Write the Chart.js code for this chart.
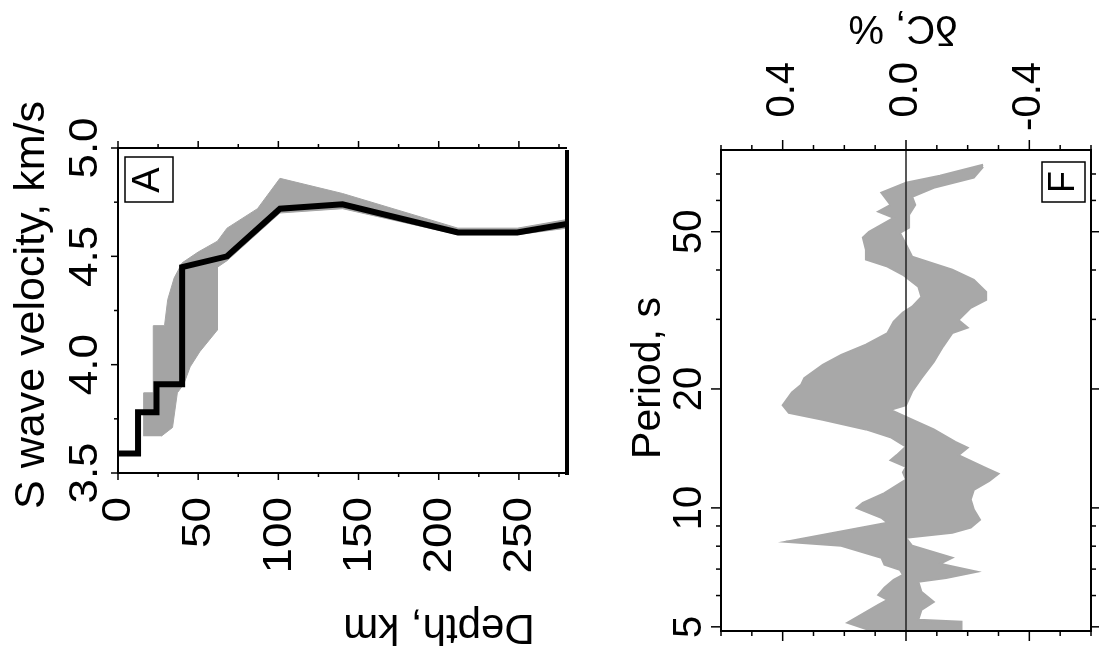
<!DOCTYPE html>
<html>
<head>
<meta charset="utf-8">
<script src="https://cdn.jsdelivr.net/npm/chart.js@4"></script>
<style>
  html, body { margin: 0; padding: 0; background: #fff; }
  #wrap { position: relative; width: 1099px; height: 671px; overflow: hidden; }
  canvas { position: absolute; left: 0; top: 0; }
</style>
</head>
<body>
<div id="wrap">
  <canvas id="chartA" width="1099" height="671"></canvas>
  <canvas id="chartF" width="1099" height="671"></canvas>
</div>
<script>
// ---- panel A: S wave velocity model vs depth ----
const depthKm = [0, 12.5, 12.5, 24, 24, 40, 40, 68, 101, 140, 212, 249, 280];
const vsModel = [3.59, 3.59, 3.78, 3.78, 3.91, 3.91, 4.45, 4.50, 4.72, 4.74, 4.61, 4.61, 4.65];

// outline of the grey range of models
const bandDepthA = [16, 16, 22, 22, 29, 31, 35, 40, 50, 62, 68, 87, 101, 140, 212, 249, 280,
                    280, 249, 212, 140, 101, 68, 62, 62, 51, 45, 41, 37, 34, 27];
const bandVsA = [3.67, 3.87, 3.87, 4.18, 4.18, 4.30, 4.40, 4.47, 4.52, 4.57, 4.63, 4.72, 4.86, 4.79, 4.63, 4.63, 4.67,
                 4.63, 4.60, 4.60, 4.72, 4.70, 4.48, 4.45, 4.16, 4.06, 3.99, 3.91, 3.87, 3.71, 3.67];

const depthTicks = [0, 50, 100, 150, 200, 250];
const vsTicks = [3.5, 4.0, 4.5, 5.0];

// ---- panel F: dC residuals vs period ----
const bandPeriodF = [73.0, 68.5, 64.6, 61.3, 58.5, 55.2, 51.2, 49.7, 46.4, 43.2, 40.1, 37.8, 35.2, 33.6, 32.1,
  29.9, 28.6, 27.7, 25.6, 23.4, 21.3, 19.7, 18.2, 17.7, 17.0, 15.8, 14.7, 14.2, 13.6, 12.6, 12.2, 11.7, 11.1,
  10.5, 9.9, 9.33, 8.91, 8.65, 8.40, 8.02, 7.48, 7.22, 6.89, 6.65, 6.50, 6.13, 5.78, 5.52, 5.21, 5.15, 4.91,
  4.91, 5.12, 5.68, 5.85, 6.02, 6.28, 6.58, 6.77, 6.97, 7.18, 7.48, 8.02, 8.21, 9.17, 9.44, 10.0, 10.3, 10.9,
  11.8, 12.3, 12.7, 13.2, 13.6, 14.3, 14.6, 15.1, 15.8, 16.7, 17.4, 18.2, 19.6, 20.5, 21.3, 23.0, 24.4, 25.9,
  27.7, 29.6, 31.2, 32.3, 34.2, 36.3, 38.9, 40.8, 42.5, 45.0, 48.3, 50.0, 54.2, 56.2, 58.5, 62.8, 66.5, 69.3, 73.9];
const bandDcF = [-0.25, -0.22, -0.09, -0.02, -0.03, -0.01, -0.01, 0.02, 0.00, -0.02, -0.15, -0.22, -0.26, -0.26, -0.21,
  -0.17, -0.20, -0.15, -0.12, -0.09, -0.05, -0.02, 0.00, 0.05, 0.00, -0.09, -0.16, -0.20, -0.17, -0.26, -0.30, -0.27, -0.22,
  -0.21, -0.22, -0.24, -0.21, -0.15, 0.00, -0.02, -0.15, -0.11, -0.23, -0.13, -0.04, -0.05, -0.09, -0.05, -0.04, -0.18, -0.18,
  0.12, 0.19, 0.09, 0.06, 0.09, 0.07, 0.04, 0.01, 0.02, 0.07, 0.08, 0.21, 0.39, 0.06, 0.08, 0.16, 0.14, 0.07,
  0.00, 0.01, 0.00, 0.05, 0.03, 0.00, 0.02, 0.05, 0.13, 0.27, 0.38, 0.40, 0.37, 0.34, 0.33, 0.27, 0.21, 0.13,
  0.06, 0.04, 0.01, -0.02, -0.05, -0.04, 0.01, 0.06, 0.13, 0.13, 0.14, 0.12, 0.04, 0.09, 0.05, 0.08, 0.00, -0.11, -0.25];

const periodTicks = [5, 10, 20, 50];
const periodMinor = [6, 7, 8, 9, 30, 40, 60, 70];
const dcTicks = [0.4, 0.0, -0.4];

const FONT = '"Liberation Sans", Arial, sans-serif';

// draw rotated text; stretch widens the glyphs along the reading direction
function rotText(ctx, text, x, y, angle, align, baseline, size, stretch) {
  ctx.save();
  ctx.translate(x, y);
  ctx.rotate(angle);
  if (stretch) ctx.scale(stretch, 1);
  ctx.font = size + 'px ' + FONT;
  ctx.fillStyle = '#000';
  ctx.textAlign = align;
  ctx.textBaseline = baseline;
  ctx.fillText(text, 0, 0);
  ctx.restore();
}

function seg(ctx, x1, y1, x2, y2, w) {
  ctx.lineWidth = w;
  ctx.beginPath();
  ctx.moveTo(x1, y1);
  ctx.lineTo(x2, y2);
  ctx.stroke();
}

const axesA = {
  id: 'axesA',
  afterDraw(chart) {
    const { ctx, chartArea: a, scales: { x, y } } = chart;
    ctx.save();
    ctx.strokeStyle = '#000';
    seg(ctx, a.left, a.top, a.right, a.top, 2);
    seg(ctx, a.left, a.bottom, a.right, a.bottom, 2);
    seg(ctx, a.left, a.top - 1, a.left, a.bottom + 1, 2);
    seg(ctx, a.right, a.top + 2, a.right, a.bottom + 2, 4);
    for (let d = 0; d <= 275; d += 25) {
      const px = x.getPixelForValue(d);
      const len = d % 50 === 0 ? 7 : 4;
      seg(ctx, px, a.top, px, a.top - len, 1.5);
      seg(ctx, px, a.bottom, px, a.bottom + len, 1.5);
    }
    for (let v = 3.5; v <= 5.001; v += 0.25) {
      const py = y.getPixelForValue(v);
      const len = Math.abs(v * 2 - Math.round(v * 2)) < 0.01 ? 7 : 4;
      seg(ctx, a.left, py, a.left - len, py, 1.5);
    }
    depthTicks.forEach(d => rotText(ctx, String(d), x.getPixelForValue(d) + 1, a.bottom + 24, -Math.PI / 2, 'right', 'middle', 41, 1.12));
    vsTicks.forEach(v => rotText(ctx, v.toFixed(1), a.left - 21, y.getPixelForValue(v), -Math.PI / 2, 'center', 'alphabetic', 40, 1.1));
    rotText(ctx, 'S wave velocity, km/s', 44, 305, -Math.PI / 2, 'center', 'alphabetic', 43);
    rotText(ctx, 'Depth, km', 439, 627, Math.PI, 'center', 'middle', 42);
    ctx.lineWidth = 1.5;
    ctx.strokeRect(a.left + 7, a.top + 9, 48, 45);
    rotText(ctx, 'A', a.left + 31, a.top + 32, -Math.PI / 2, 'center', 'middle', 38);
    ctx.restore();
  }
};

const axesF = {
  id: 'axesF',
  afterDatasetsDraw(chart) {
    const { ctx, chartArea: a, scales: { x } } = chart;
    const x0 = x.getPixelForValue(0);
    ctx.save();
    ctx.strokeStyle = '#222';
    seg(ctx, x0, a.top, x0, a.bottom, 1.5);
    ctx.restore();
  },
  afterDraw(chart) {
    const { ctx, chartArea: a, scales: { x, y } } = chart;
    ctx.save();
    ctx.strokeStyle = '#000';
    ctx.lineWidth = 2;
    ctx.strokeRect(a.left, a.top, a.right - a.left, a.bottom - a.top);
    for (let k = -6; k <= 6; k++) {
      const v = k / 10;
      const px = x.getPixelForValue(v);
      const len = k % 4 === 0 ? 10 : 5;
      seg(ctx, px, a.top, px, a.top - len, 1.5);
      seg(ctx, px, a.bottom, px, a.bottom + len, 1.5);
    }
    periodTicks.concat(periodMinor).forEach(p => {
      const py = y.getPixelForValue(p);
      const len = periodTicks.includes(p) ? 10 : 5;
      seg(ctx, a.left, py, a.left - len, py, 1.5);
      seg(ctx, a.right, py, a.right + len, py, 1.5);
    });
    dcTicks.forEach(v => rotText(ctx, v.toFixed(1), x.getPixelForValue(v), 62, -Math.PI / 2, 'right', 'middle', 40));
    periodTicks.forEach(p => rotText(ctx, String(p), a.left - 20, y.getPixelForValue(p), -Math.PI / 2, 'center', 'alphabetic', 40));
    rotText(ctx, 'Period, s', 660, 378, -Math.PI / 2, 'center', 'alphabetic', 41);
    rotText(ctx, 'δC, %', 903, 27, Math.PI, 'center', 'middle', 40);
    ctx.lineWidth = 1.5;
    ctx.strokeRect(a.right - 49, a.top + 12, 43, 40);
    rotText(ctx, 'F', a.right - 27, a.top + 32, -Math.PI / 2, 'center', 'middle', 36);
    ctx.restore();
  }
};

const chartA = new Chart(document.getElementById('chartA'), {
  type: 'line',
  data: {
    datasets: [
      {
        data: depthKm.map((d, i) => ({ x: d, y: vsModel[i] })),
        borderColor: '#000',
        borderWidth: 6,
        borderJoinStyle: 'miter',
        pointRadius: 0,
        fill: false
      },
      {
        data: bandDepthA.map((d, i) => ({ x: d, y: bandVsA[i] })),
        borderColor: '#a4a4a4',
        borderWidth: 1,
        backgroundColor: '#a4a4a4',
        pointRadius: 0,
        fill: 'shape'
      }
    ]
  },
  options: {
    responsive: false,
    animation: false,
    layout: { padding: { left: 118, top: 148, right: 532, bottom: 198 } },
    scales: {
      x: { type: 'linear', min: 0, max: 280, display: false },
      y: { type: 'linear', min: 3.5, max: 5.0, display: false }
    },
    plugins: { legend: { display: false }, tooltip: { enabled: false } }
  },
  plugins: [axesA]
});

const chartF = new Chart(document.getElementById('chartF'), {
  type: 'line',
  data: {
    datasets: [
      {
        data: bandDcF.map((v, i) => ({ x: v, y: bandPeriodF[i] })),
        borderColor: '#a8a8a8',
        borderWidth: 2,
        backgroundColor: '#a8a8a8',
        pointRadius: 0,
        fill: 'shape'
      }
    ]
  },
  options: {
    responsive: false,
    animation: false,
    layout: { padding: { left: 721, top: 150, right: 8, bottom: 40 } },
    scales: {
      x: { type: 'linear', min: -0.6, max: 0.6, reverse: true, display: false },
      y: { type: 'logarithmic', min: 4.88, max: 80.5, display: false }
    },
    plugins: { legend: { display: false }, tooltip: { enabled: false } }
  },
  plugins: [axesF]
});
</script>
</body>
</html>
